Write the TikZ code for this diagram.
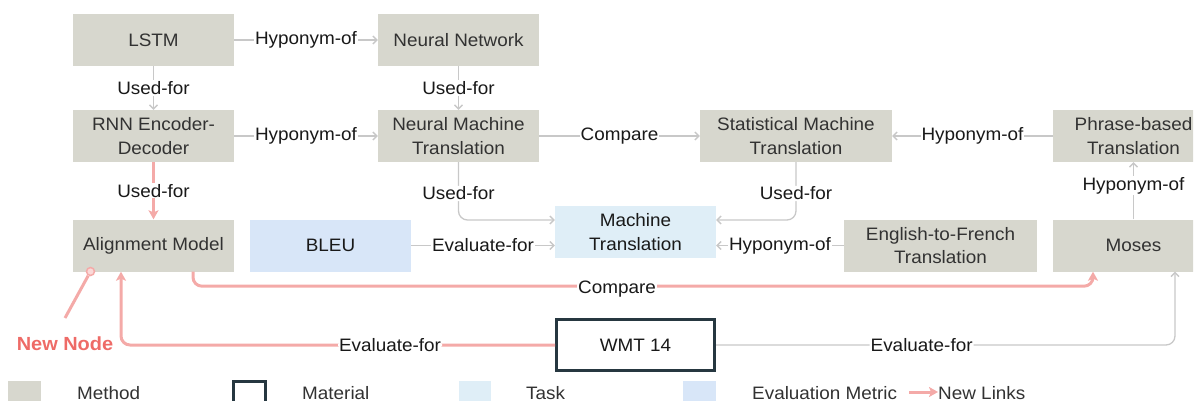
\documentclass[tikz,border=0pt]{standalone}
\usepackage{fontspec}
\setmainfont{Liberation Sans}[FakeStretch=1.05]
\usetikzlibrary{arrows.meta,calc}
\definecolor{methodc}{RGB}{215,215,206}
\definecolor{taskc}{RGB}{223,238,247}
\definecolor{evalc}{RGB}{216,230,248}
\definecolor{wmtc}{RGB}{38,55,64}
\definecolor{grayl}{RGB}{200,200,200}
\definecolor{pinkl}{RGB}{244,170,168}
\definecolor{nnc}{RGB}{238,107,103}
\definecolor{txtc}{RGB}{50,50,50}
\begin{document}
\begin{tikzpicture}[x=1pt,y=-1pt,
  font=\fontsize{18}{23.5}\selectfont,
  box/.style={rectangle, minimum width=161pt, minimum height=52pt, align=center, inner sep=1pt},
  method/.style={box, fill=methodc, text=txtc},
  task/.style={box, fill=taskc, text=black!90},
  evalm/.style={box, fill=evalc, text=black!90},
  material/.style={box, draw=wmtc, line width=3pt, fill=white, minimum width=158pt, minimum height=51pt, text=black!90},
  lbl/.style={fill=white, inner sep=1pt, text=black!90},
  legtxt/.style={anchor=base west, inner sep=0pt, text=txtc},
  garrow/.style={draw=grayl, line width=1.3pt, -{Straight Barb[length=4pt,width=8pt]}},
  parrow/.style={draw=pinkl, line width=3pt, -{Stealth[length=9pt,width=10pt,inset=2pt]}},
  pline/.style={draw=pinkl, line width=3pt},
]
\useasboundingbox (0,0) rectangle (1203,401);
\clip (0,0) rectangle (1193,401);

% nodes
\node[method] (lstm) at (153.5,40) {LSTM};
\node[method] (nn) at (458.5,40) {Neural Network};
\node[method] (rnn) at (153.5,136) {RNN Encoder-\\Decoder};
\node[method] (nmt) at (458.5,136) {Neural Machine\\Translation};
\node[method, minimum width=192pt] (smt) at (796,136) {Statistical Machine\\Translation};
\node[method] (pbt) at (1133.5,136) {Phrase-based\\Translation};
\node[method] (am) at (153.5,245.5) {Alignment Model};
\node[evalm] (bleu) at (330.5,245.5) {BLEU};
\node[task] (mt) at (635.5,232) {Machine\\Translation};
\node[method, minimum width=193pt] (e2f) at (940.5,245.5) {English-to-French\\Translation};
\node[method] (moses) at (1133.5,245.5) {Moses};
\node[material] (wmt) at (635.5,345) {WMT 14};

% gray edges
\draw[garrow] (lstm) -- node[lbl]{Hyponym-of} (nn);
\draw[garrow] (lstm) -- node[lbl]{Used-for} (rnn);
\draw[garrow] (nn) -- node[lbl]{Used-for} (nmt);
\draw[garrow] (rnn) -- node[lbl]{Hyponym-of} (nmt);
\draw[garrow] (nmt) -- node[lbl]{Compare} (smt);
\draw[garrow] (pbt) -- node[lbl]{Hyponym-of} (smt);
\draw[garrow] (moses) -- node[lbl, pos=0.59]{Hyponym-of} (pbt);
\draw[garrow, rounded corners=9pt] (nmt.south) |- node[lbl, pos=0.27]{Used-for} ($(mt.west)+(0,-12)$);
\draw[garrow, rounded corners=9pt] (smt.south) |- node[lbl, pos=0.27]{Used-for} ($(mt.east)+(0,-12)$);
\draw[garrow] (bleu.east) -- node[lbl]{Evaluate-for} (bleu.east -| mt.west);
\draw[garrow] (e2f.west) -- node[lbl]{Hyponym-of} (e2f.west -| mt.east);
\draw[garrow, rounded corners=9pt] (wmt.east) -| node[lbl, pos=0.224]{Evaluate-for} ($(moses.south)+(41.5,0)$);

% pink edges
\draw[parrow] (rnn) -- node[lbl]{Used-for} (am);
\draw[parrow, rounded corners=9pt] ($(am.south)+(39.5,0)$) |- ($(moses.south)+(-40.5,14.5)$) -- ($(moses.south)+(-40.5,0)$);
\node[lbl] at (617,289) {Compare};
\draw[parrow, rounded corners=9pt] (wmt.west) -| node[lbl, pos=0.19]{Evaluate-for} ($(am.south)+(-32.5,0)$);

% new node annotation
\node[text=nnc, font=\fontsize{19}{22}\selectfont\bfseries] (newnode) at (65,344) {New Node};
\coordinate (nnstart) at (65,318);
\node[circle, draw=pinkl, fill=pinkl!45, line width=1.5pt, minimum size=8pt, inner sep=0pt] (nndot) at (90.5,271.5) {};
\draw[pline] (nnstart) -- (nndot);

% legend
\node[fill=methodc, minimum width=33pt, minimum height=30pt, inner sep=0pt] (legm) at (24.5,396) {};
\node[legtxt] (legmt) at (77,399.3) {Method};
\node[draw=wmtc, line width=3pt, fill=white, minimum width=32pt, minimum height=30pt, inner sep=0pt] (legma) at (249.5,396) {};
\node[legtxt] (legmat) at (302,399.3) {Material};
\node[fill=taskc, minimum width=32pt, minimum height=30pt, inner sep=0pt] (legt) at (475,396) {};
\node[legtxt] (legtt) at (526,399.3) {Task};
\node[fill=evalc, minimum width=33pt, minimum height=30pt, inner sep=0pt] (lege) at (699.5,396) {};
\node[legtxt] (legee) at (752,399.3) {Evaluation Metric};
\coordinate (lpa) at (909,392);
\node[legtxt] (legnl) at (938,399.3) {New Links};
\draw[draw=pinkl, line width=3pt, -{Stealth[length=9pt,width=10pt,inset=2pt]}] (lpa) -- (legnl.base west |- lpa);
\end{tikzpicture}
\end{document}
